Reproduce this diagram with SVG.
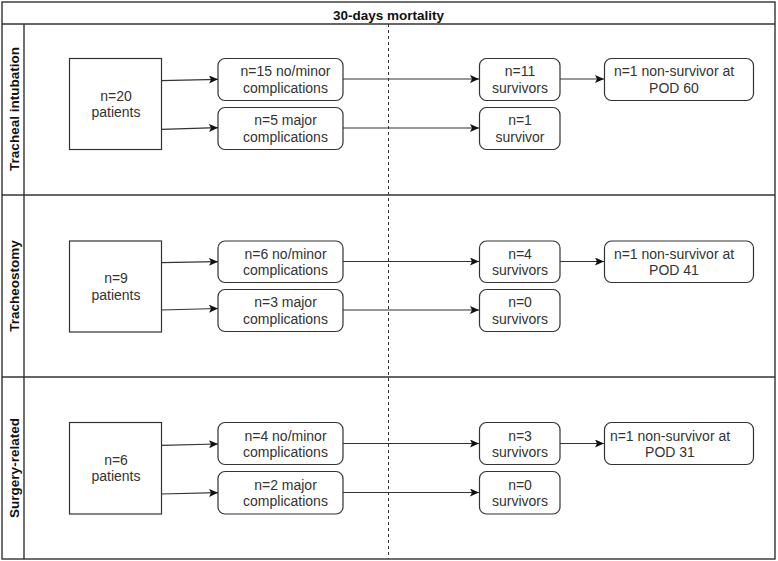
<svg xmlns="http://www.w3.org/2000/svg" width="778" height="561" viewBox="0 0 778 561">
<defs>
<marker id="arr" markerUnits="userSpaceOnUse" markerWidth="10" markerHeight="9" refX="9" refY="4" orient="auto">
<path d="M0,0 L9,4 L0,8 L2,4 Z" fill="#111"/>
</marker>
<style>
.frame{fill:none;stroke:#333;stroke-width:1.4}
.box{fill:#fff;stroke:#333;stroke-width:1.2}
.t{font-family:"Liberation Sans",Arial,sans-serif;font-size:14px;fill:#333;text-anchor:middle}
.h{font-family:"Liberation Sans",Arial,sans-serif;font-size:13.5px;font-weight:bold;fill:#111;text-anchor:middle}
.c{fill:none;stroke:#333;stroke-width:1.2;marker-end:url(#arr)}
</style>
</defs>
<rect width="778" height="561" fill="#fff"/>
<g id="pool">
<rect class="frame" x="2" y="2" width="773" height="557"/>
<line class="frame" x1="2" y1="24" x2="775" y2="24"/>
<line class="frame" x1="2" y1="195" x2="775" y2="195"/>
<line class="frame" x1="2" y1="377" x2="775" y2="377"/>
<line class="frame" x1="24" y1="24" x2="24" y2="559"/>
<text class="h" x="388.5" y="19.5">30-days mortality</text>
<line x1="388.5" y1="24" x2="388.5" y2="559" stroke="#333" stroke-width="1" stroke-dasharray="3,3"/>
</g>
<g id="lane1">
<text class="h" transform="translate(18.5,109) rotate(-90)">Tracheal intubation</text>
</g>
<g id="lane2">
<text class="h" transform="translate(18.5,286) rotate(-90)">Tracheostomy</text>
</g>
<g id="lane3">
<text class="h" transform="translate(18.5,468) rotate(-90)">Surgery-related</text>
</g>
<g id="connectors">
<line class="c" x1="161" y1="80.7" x2="218" y2="79.3"/>
<line class="c" x1="161" y1="129.3" x2="218" y2="127.7"/>
<line class="c" x1="343" y1="79" x2="479" y2="79"/>
<line class="c" x1="343" y1="128" x2="479" y2="128"/>
<line class="c" x1="560" y1="79" x2="604" y2="79"/>
<line class="c" x1="161" y1="262.7" x2="218" y2="261.7"/>
<line class="c" x1="161" y1="310" x2="218" y2="308.5"/>
<line class="c" x1="343" y1="261.5" x2="479" y2="261.5"/>
<line class="c" x1="343" y1="310" x2="479" y2="310"/>
<line class="c" x1="560" y1="261.5" x2="604" y2="261.5"/>
<line class="c" x1="161" y1="445.3" x2="218" y2="444"/>
<line class="c" x1="161" y1="494" x2="218" y2="492.7"/>
<line class="c" x1="343" y1="443.5" x2="479" y2="443.5"/>
<line class="c" x1="343" y1="492.5" x2="479" y2="492.5"/>
<line class="c" x1="560" y1="443.5" x2="604" y2="443.5"/>
</g>
<g id="p1"><rect class="box" x="69.5" y="58.5" width="92" height="91"/><text class="t"><tspan x="116" y="100.5">n=20</tspan><tspan x="116" y="117">patients</tspan></text></g>
<g id="c1a"><rect class="box" x="218" y="58.5" width="125" height="42" rx="7"/><text class="t"><tspan x="285.5" y="76">n=15 no/minor</tspan><tspan x="285.5" y="92.5">complications</tspan></text></g>
<g id="c1b"><rect class="box" x="218" y="107.5" width="125" height="42" rx="7"/><text class="t"><tspan x="285.5" y="125">n=5 major</tspan><tspan x="285.5" y="141.5">complications</tspan></text></g>
<g id="s1a"><rect class="box" x="479.5" y="58.5" width="80.5" height="42" rx="7"/><text class="t"><tspan x="520" y="76">n=11</tspan><tspan x="520" y="92.5">survivors</tspan></text></g>
<g id="s1b"><rect class="box" x="479.5" y="107.5" width="80.5" height="42" rx="7"/><text class="t"><tspan x="520" y="125">n=1</tspan><tspan x="520" y="141.5">survivor</tspan></text></g>
<g id="d1"><rect class="box" x="604.5" y="58.5" width="149" height="42" rx="7"/><text class="t"><tspan x="674" y="76">n=1 non-survivor at</tspan><tspan x="674" y="92.5">POD 60</tspan></text></g>

<g id="p2"><rect class="box" x="69.5" y="241" width="92" height="91"/><text class="t"><tspan x="116" y="283">n=9</tspan><tspan x="116" y="299.5">patients</tspan></text></g>
<g id="c2a"><rect class="box" x="218" y="241" width="125" height="41.5" rx="7"/><text class="t"><tspan x="285.5" y="258.5">n=6 no/minor</tspan><tspan x="285.5" y="275">complications</tspan></text></g>
<g id="c2b"><rect class="box" x="218" y="289.5" width="125" height="42" rx="7"/><text class="t"><tspan x="285.5" y="307">n=3 major</tspan><tspan x="285.5" y="323.5">complications</tspan></text></g>
<g id="s2a"><rect class="box" x="479.5" y="241" width="80.5" height="41.5" rx="7"/><text class="t"><tspan x="520" y="258.5">n=4</tspan><tspan x="520" y="275">survivors</tspan></text></g>
<g id="s2b"><rect class="box" x="479.5" y="289.5" width="80.5" height="42" rx="7"/><text class="t"><tspan x="520" y="307">n=0</tspan><tspan x="520" y="323.5">survivors</tspan></text></g>
<g id="d2"><rect class="box" x="604.5" y="241" width="149" height="41.5" rx="7"/><text class="t"><tspan x="674" y="258.5">n=1 non-survivor at</tspan><tspan x="674" y="275">POD 41</tspan></text></g>

<g id="p3"><rect class="box" x="69.5" y="422.5" width="92" height="91.5"/><text class="t"><tspan x="116" y="464.5">n=6</tspan><tspan x="116" y="481">patients</tspan></text></g>
<g id="c3a"><rect class="box" x="218" y="422.5" width="125" height="42" rx="7"/><text class="t"><tspan x="285.5" y="440.5">n=4 no/minor</tspan><tspan x="285.5" y="457">complications</tspan></text></g>
<g id="c3b"><rect class="box" x="218" y="471.5" width="125" height="42.5" rx="7"/><text class="t"><tspan x="285.5" y="489.5">n=2 major</tspan><tspan x="285.5" y="506">complications</tspan></text></g>
<g id="s3a"><rect class="box" x="479.5" y="422.5" width="80.5" height="42" rx="7"/><text class="t"><tspan x="520" y="440.5">n=3</tspan><tspan x="520" y="457">survivors</tspan></text></g>
<g id="s3b"><rect class="box" x="479.5" y="471.5" width="80.5" height="42.5" rx="7"/><text class="t"><tspan x="520" y="489.5">n=0</tspan><tspan x="520" y="506">survivors</tspan></text></g>
<g id="d3"><rect class="box" x="604.5" y="422.5" width="149" height="42" rx="7"/><text class="t"><tspan x="670" y="440.5">n=1 non-survivor at</tspan><tspan x="670" y="457">POD 31</tspan></text></g>
</svg>
